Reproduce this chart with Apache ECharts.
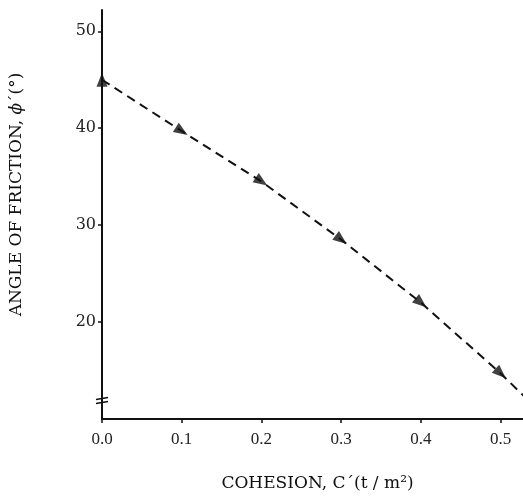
<!DOCTYPE html>
<html><head><meta charset="utf-8">
<script src="https://cdn.jsdelivr.net/npm/echarts@6/dist/echarts.min.js"></script>
<style>html,body{margin:0;padding:0;background:#fff}#c{width:523px;height:497px}</style>
</head><body><div id="c"></div>
<script>
const cohesion = [0.0, 0.1, 0.2, 0.3, 0.4, 0.5];
const friction = [45.0, 39.7, 34.5, 28.5, 22.0, 14.7];
const trendEnd = [0.53, 12.3];
const xTicks = [0.0, 0.1, 0.2, 0.3, 0.4, 0.5];
const yTicks = [20, 30, 40, 50];
const xName = 'COHESION, C´(t / m²)';
const yName = 'ANGLE OF FRICTION, {i|ϕ}´(°)';
const breakValue = 11.9;

const points = cohesion.map((c, i) => [c, friction[i]]);
const serif = '"Liberation Serif", "DejaVu Serif", serif';
const wideSerif = '"DejaVu Serif", "Liberation Serif", serif';
const chart = echarts.init(document.getElementById('c'), null, {renderer: 'canvas'});

const option = {
  animation: false,
  backgroundColor: '#fff',
  grid: {left: 102, right: 0, top: 10, bottom: 73, containLabel: false},
  xAxis: {
    type: 'value', min: 0, max: 0.528,
    name: xName, nameLocation: 'middle', nameGap: 56,
    nameTextStyle: {fontFamily: wideSerif, fontSize: 17, color: '#111', padding: [0, 0, 0, 10]},
    axisLine: {show: true, onZero: false, lineStyle: {color: '#111', width: 2}},
    axisTick: {show: true, length: 4, customValues: xTicks, lineStyle: {color: '#111', width: 1.5}},
    axisLabel: {customValues: xTicks, fontFamily: serif, fontSize: 17, color: '#222', margin: 12,
      formatter: v => v.toFixed(1)},
    splitLine: {show: false}
  },
  yAxis: {
    type: 'value', min: 10, max: 52.2,
    name: yName, nameLocation: 'middle', nameGap: 77, nameRotate: 90,
    nameTextStyle: {fontFamily: wideSerif, fontSize: 17, color: '#111', padding: [0, 0, 0, 40],
      rich: {i: {fontFamily: wideSerif, fontSize: 17, fontStyle: 'italic', color: '#111'}}},
    axisLine: {show: true, onZero: false, lineStyle: {color: '#111', width: 2}},
    axisTick: {show: true, length: 4, customValues: yTicks, lineStyle: {color: '#111', width: 1.5}},
    axisLabel: {customValues: yTicks, fontFamily: wideSerif, fontSize: 16, color: '#222', margin: 6},
    splitLine: {show: false}
  },
  series: [
    {
      type: 'line', data: points.concat([trendEnd]), symbol: 'none', clip: true,
      lineStyle: {color: '#111', width: 2, type: [9, 6]}
    },
    {
      type: 'scatter', data: points, symbol: 'triangle', symbolSize: [11, 14],
      itemStyle: {color: '#111'}, z: 5
    }
  ]
};
chart.setOption(option);

// orient each arrowhead along the curve, computed from the data through the axes
const px = points.concat([trendEnd]).map(p => chart.convertToPixel({gridIndex: 0}, p));
const markerData = points.map((p, i) => {
  if (i === 0) return {value: p, symbolRotate: 0};
  const a = px[i - 1], b = px[i + 1];
  const ang = Math.atan2(b[1] - a[1], b[0] - a[0]) * 180 / Math.PI;
  return {value: p, symbolRotate: -(ang + 90)};
});
const axisBreak = chart.convertToPixel({gridIndex: 0}, [0, breakValue]);
chart.setOption({
  series: [{}, {data: markerData}],
  graphic: [
    {type: 'line', shape: {x1: axisBreak[0] - 6, y1: axisBreak[1] - 1, x2: axisBreak[0] + 6, y2: axisBreak[1] - 3},
      style: {stroke: '#111', lineWidth: 1.5}},
    {type: 'line', shape: {x1: axisBreak[0] - 6, y1: axisBreak[1] + 3, x2: axisBreak[0] + 6, y2: axisBreak[1] + 1},
      style: {stroke: '#111', lineWidth: 1.5}}
  ]
});
</script></body></html>
